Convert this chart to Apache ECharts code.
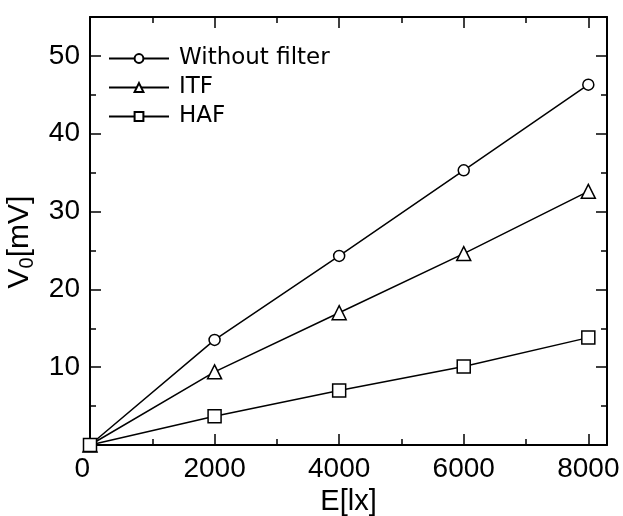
<!DOCTYPE html>
<html><head><meta charset="utf-8">
<script src="https://cdn.jsdelivr.net/npm/echarts@6/dist/echarts.min.js"></script>
<style>html,body{margin:0;padding:0;background:#fff}#c{width:623px;height:516px}</style>
</head><body><div id="c"></div>
<script>
var xValues = [0, 2000, 4000, 6000, 8000];
var withoutFilter = [0, 13.5, 24.3, 35.3, 46.3];
var itf = [0, 9.4, 17.0, 24.6, 32.6];
var haf = [0, 3.7, 7.0, 10.1, 13.8];
var seriesNames = ['Without filter', 'ITF', 'HAF'];
var xTicks = [0, 2000, 4000, 6000, 8000];
var yTicks = [10, 20, 30, 40, 50];

function pairs(vals){ return xValues.map(function(x,i){ return [x, vals[i]]; }); }

var chart = echarts.init(document.getElementById('c'), null, {renderer:'canvas'});
var tickFont = {fontFamily:'Liberation Sans', fontSize:28, color:'#000'};
var axisLine = {show:true, onZero:false, lineStyle:{color:'#000', width:2}};
var majTick = {show:true, inside:true, length:11, lineStyle:{color:'#000', width:1.5}};
var minTick = {show:true, splitNumber:2, length:6, lineStyle:{color:'#000', width:1.5}};
function mk(name, data, symbol, size){
  return {name:name, type:'line', data:pairs(data), symbol:symbol, symbolSize:size,
    showAllSymbol:true, clip:false,
    lineStyle:{color:'#000', width:1.5}, itemStyle:{color:'#fff', borderColor:'#000', borderWidth:1.5},
    emphasis:{disabled:true}, animation:false};
}
chart.setOption({
  animation:false,
  backgroundColor:'#fff',
  grid:{left:90, right:16, top:17, bottom:71, outerBoundsMode:'none', containLabel:false},
  legend:{orient:'vertical', left:103, top:42, itemWidth:60, itemHeight:11, itemGap:6,
    textStyle:{fontFamily:'DejaVu Sans', fontSize:23, color:'#000', padding:[0,0,0,5]},
    data:seriesNames, selectedMode:false},
  xAxis:[{type:'value', min:0, max:8300, interval:2000, position:'bottom',
    axisLine:axisLine, splitLine:{show:false},
    axisTick:majTick, minorTick:minTick,
    axisLabel:Object.assign({margin:10, showMaxLabel:false, alignMinLabel:'right',
      formatter:function(v){ return xTicks.indexOf(v) >= 0 ? String(v) : ''; }}, tickFont),
    name:'E[lx]', nameLocation:'middle', nameGap:38,
    nameTextStyle:{fontFamily:'Liberation Sans', fontSize:29, color:'#000'}},
   {type:'value', min:0, max:8300, interval:2000, position:'top',
    axisLine:axisLine, splitLine:{show:false},
    axisTick:majTick, minorTick:minTick,
    axisLabel:{show:false}}],
  yAxis:[{type:'value', min:0, max:55, interval:10, position:'left',
    axisLine:axisLine, splitLine:{show:false},
    axisTick:majTick, minorTick:minTick,
    axisLabel:Object.assign({margin:10, showMinLabel:false, showMaxLabel:false,
      formatter:function(v){ return yTicks.indexOf(v) >= 0 ? String(v) : ''; }}, tickFont),
    name:'{a|V}{s|0}{a|[mV]}', nameLocation:'middle', nameGap:45,
    nameTextStyle:{padding:[0,22,0,0], rich:{
      a:{fontFamily:'Liberation Sans', fontSize:30, color:'#000', verticalAlign:'top'},
      s:{fontFamily:'Liberation Sans', fontSize:20, color:'#000', verticalAlign:'top', padding:[13,0,0,0]}}}},
   {type:'value', min:0, max:55, interval:10, position:'right',
    axisLine:axisLine, splitLine:{show:false},
    axisTick:majTick, minorTick:minTick,
    axisLabel:{show:false}}],
  series:[mk(seriesNames[0], withoutFilter, 'circle', 11),
          mk(seriesNames[1], itf, 'triangle', 14),
          mk(seriesNames[2], haf, 'rect', 13),
          {type:'line', xAxisIndex:1, yAxisIndex:1, data:[], silent:true}]
});
</script></body></html>
